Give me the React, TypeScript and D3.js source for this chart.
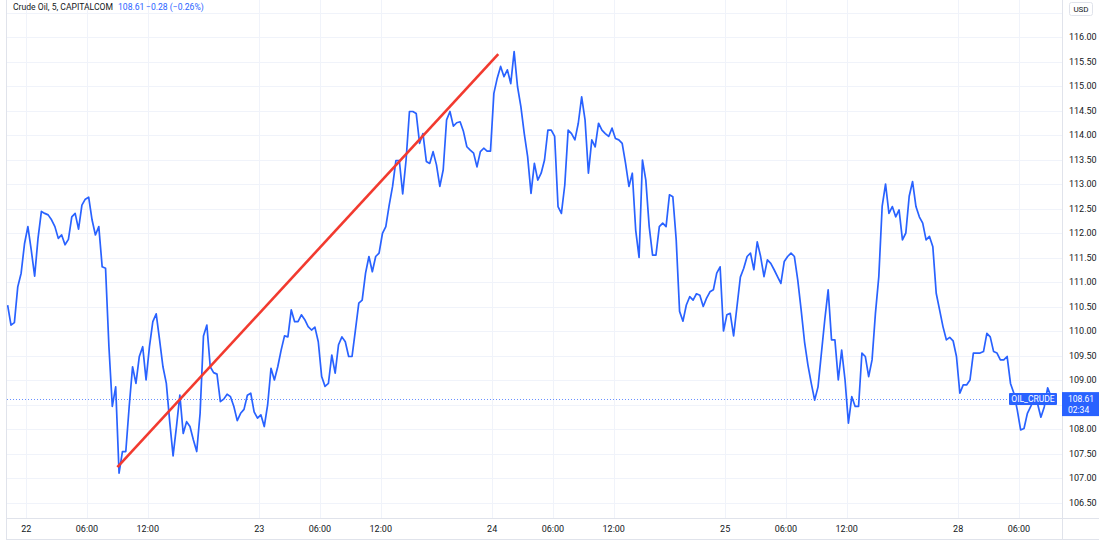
import React from "react";
import * as d3 from "d3";

// ---- data ----
const title = "Crude Oil, 5, CAPITALCOM";
const lastPrice = 108.61;
const changeAbs = -0.28;
const changePct = -0.26;
const symbol = "OIL_CRUDE";
const countdown = "02:34";
const currency = "USD";

// trading-hour index (23 trading hours per day, weekend skipped); series sampled every 20 min
const startHour = -11 / 6;
const stepHours = 1 / 3;
const prices = [
  110.53, 110.12, 110.17, 110.9, 111.18, 111.78, 112.13, 111.65, 111.12, 111.89,
  112.44, 112.4, 112.37, 112.27, 112.13, 111.89, 111.96, 111.76, 111.87, 112.33,
  112.4, 112.08, 112.57, 112.69, 112.73, 112.27, 111.96, 112.13, 111.31, 111.28,
  109.68, 108.46, 108.86, 107.1, 107.54, 107.54, 108.46, 109.27, 108.93, 109.48,
  109.68, 109.0, 109.68, 110.19, 110.35, 109.82, 109.27, 108.93, 108.15, 107.45,
  108.05, 108.69, 107.91, 108.15, 108.05, 107.78, 107.54, 108.32, 109.9, 110.12,
  109.27, 109.15, 109.12, 108.56, 108.61, 108.71, 108.66, 108.46, 108.17, 108.32,
  108.4, 108.69, 108.73, 108.35, 108.22, 108.29, 108.05, 108.49, 109.24, 109.0,
  109.27, 109.61, 109.9, 109.88, 110.43, 110.19, 110.19, 110.33, 110.23, 110.09,
  110.02, 110.08, 109.78, 109.07, 108.87, 108.93, 109.51, 109.14, 109.72, 109.88,
  109.78, 109.48, 109.48, 110.02, 110.57, 110.63, 111.18, 111.52, 111.21, 111.52,
  111.59, 111.99, 112.13, 112.57, 112.95, 113.48, 113.48, 112.8, 113.49, 114.48,
  114.48, 114.44, 113.83, 114.03, 113.46, 113.42, 113.66, 113.39, 112.95, 113.29,
  114.31, 114.48, 114.18, 114.25, 114.27, 114.07, 113.76, 113.69, 113.63, 113.35,
  113.66, 113.73, 113.67, 113.67, 114.85, 115.16, 115.4, 115.19, 115.33, 115.05,
  115.7, 114.99, 114.58, 114.03, 113.56, 112.81, 113.42, 113.08, 113.22, 113.49,
  114.1, 114.1, 113.97, 112.54, 112.4, 112.98, 114.1, 114.03, 113.9, 114.24,
  114.78, 114.31, 113.22, 113.9, 113.76, 114.24, 114.1, 114.03, 113.97, 114.14,
  113.93, 113.9, 113.83, 113.42, 112.95, 113.22, 112.06, 111.5, 113.49, 113.08,
  112.13, 111.55, 111.55, 112.13, 112.2, 112.13, 112.78, 112.74, 111.86, 110.4,
  110.2, 110.53, 110.7, 110.63, 110.76, 110.73, 110.5, 110.67, 110.8, 110.84,
  111.18, 111.31, 110.0, 110.33, 110.36, 109.9, 110.5, 111.1, 111.28, 111.52,
  111.59, 111.25, 111.82, 111.52, 111.11, 111.45, 111.38, 111.25, 111.11, 110.97,
  111.42, 111.52, 111.59, 111.52, 111.04, 110.43, 109.78, 109.31, 108.93, 108.59,
  108.86, 109.55, 110.23, 110.84, 109.82, 109.82, 109.0, 109.61, 109.0, 108.12,
  108.66, 108.46, 108.46, 109.55, 109.48, 109.07, 109.41, 110.36, 111.11, 112.55,
  113.0, 112.4, 112.54, 112.33, 112.47, 111.86, 112.0, 112.75, 113.05, 112.54,
  112.33, 112.2, 111.86, 111.93, 111.72, 110.77, 110.43, 110.09, 109.82, 109.87,
  109.8, 109.48, 108.73, 108.9, 108.9, 109.0, 109.55, 109.55, 109.55, 109.58,
  109.95, 109.88, 109.58, 109.55, 109.41, 109.41, 109.48, 108.93, 108.73, 108.39,
  107.98, 108.01, 108.32, 108.46, 108.63, 108.52, 108.24, 108.45, 108.84, 108.66,
];

const timeTickHours = [0, 6, 12, 23, 29, 35, 46, 52, 58, 69, 75, 81, 92, 98];
const timeTickLabels = ["22", "06:00", "12:00", "23", "06:00", "12:00", "24", "06:00", "12:00", "25", "06:00", "12:00", "28", "06:00"];
const priceTicks = [106.5, 107, 107.5, 108, 108.5, 109, 109.5, 110, 110.5, 111, 111.5, 112, 112.5, 113, 113.5, 114, 114.5, 115, 115.5, 116, 116.5];
// labels hidden in the reference (under the last-price tag / currency badge)
const hiddenPriceLabels = [108.5, 116.5];

const trendHours = [9.0, 46.6];
const trendPrices = [107.22, 115.65];

// ---- layout ----
const W = 1099;
const H = 540;
const plotLeft = 7;
const plotRight = 1062;
const plotBottom = 518;
const FONT = "Roboto, 'Noto Sans', sans-serif";
const BLUE = "#2962ff";
const TXT = "#131722";
const GRID = "#f0f3fa";
const BORDER = "#e0e3eb";

function fmtSign(v: number) {
  return (v < 0 ? "\u2212" : "+") + Math.abs(v).toFixed(2);
}

export default function App() {
  const x = d3.scaleLinear().domain([0, 98]).range([26.2, 26.2 + 98 * 10.13]);
  const y = d3.scaleLinear().domain([106.5, 116]).range([502.5, 37]);

  const series = prices.map((p, i) => ({ h: startHour + i * stepHours, p }));
  const line = d3
    .line<{ h: number; p: number }>()
    .x((d) => x(d.h))
    .y((d) => y(d.p));

  const trend = trendHours.map((h, i) => ({ h, p: trendPrices[i] }));
  const yLast = y(lastPrice);

  return (
    <div style={{ position: "absolute", left: 0, top: 0 }}>
      <svg width={W} height={H} style={{ display: "block", background: "#fff" }} fontFamily={FONT}>
        <defs>
          <clipPath id="plotClip">
            <rect x={plotLeft} y={0} width={plotRight - plotLeft} height={plotBottom} />
          </clipPath>
        </defs>
        {/* grid */}
        <g clipPath="url(#plotClip)">
          {priceTicks.map((v) => (
            <line key={"hg" + v} x1={plotLeft} x2={plotRight} y1={Math.round(y(v)) + 0.5} y2={Math.round(y(v)) + 0.5} stroke={GRID} />
          ))}
          {timeTickHours.map((h) => (
            <line key={"vg" + h} x1={Math.round(x(h)) + 0.5} x2={Math.round(x(h)) + 0.5} y1={0} y2={plotBottom} stroke={GRID} />
          ))}
        </g>
        {/* last price line */}
        <line x1={plotLeft} x2={1009} y1={Math.round(yLast) + 0.5} y2={Math.round(yLast) + 0.5} stroke={BLUE} strokeOpacity={0.7} strokeDasharray="1 2" />
        <g clipPath="url(#plotClip)">
          <path d={line(series) || ""} fill="none" stroke={BLUE} strokeWidth={1.7} strokeLinejoin="round" />
          <path d={line(trend) || ""} fill="none" stroke="#f23a2f" strokeWidth={2.6} />
        </g>
        {/* symbol tag */}
        <rect x={1009} y={yLast - 6} width={48} height={12} fill={BLUE} rx={1} />
        <text x={1033} y={yLast} dy="0.35em" textAnchor="middle" fontSize={8.5} fill="#fff">{symbol}</text>

        {/* borders */}
        <line x1={6.5} x2={6.5} y1={0} y2={H} stroke={BORDER} />
        <line x1={plotRight + 0.5} x2={plotRight + 0.5} y1={0} y2={H} stroke={BORDER} />
        <line x1={plotLeft} x2={W} y1={plotBottom + 0.5} y2={plotBottom + 0.5} stroke={BORDER} />
        <line x1={plotLeft} x2={W} y1={H - 0.5} y2={H - 0.5} stroke={BORDER} />

        {/* price axis */}
        {priceTicks
          .filter((v) => !hiddenPriceLabels.includes(v))
          .map((v) => (
            <text key={"pl" + v} x={1069} y={y(v)} dy="0.35em" fontSize={9} fill={TXT}>{v.toFixed(2)}</text>
          ))}
        <rect x={plotRight} y={yLast - 7} width={W - plotRight} height={24} fill={BLUE} />
        <text x={1068} y={yLast} dy="0.35em" fontSize={8.5} fill="#fff">{lastPrice.toFixed(2)}</text>
        <text x={1068} y={yLast + 10.5} dy="0.35em" fontSize={8.5} fill="#fff">{countdown}</text>
        <rect x={1069.5} y={2.5} width={23} height={13} rx={2} fill="#fff" stroke={BORDER} />
        <text x={1081} y={9} dy="0.35em" textAnchor="middle" fontSize={8} fill={TXT}>{currency}</text>

        {/* time axis */}
        {timeTickHours.map((h, i) => (
          <text key={"tl" + h} x={x(h)} y={529} dy="0.35em" textAnchor="middle" fontSize={9} fill={TXT}>{timeTickLabels[i]}</text>
        ))}

        {/* header */}
        <text x={13} y={7} dy="0.35em" fontSize={8.6} fill={TXT}>{title}</text>
        <text x={118} y={7} dy="0.35em" fontSize={8.6} fill={BLUE}>{lastPrice.toFixed(2)}</text>
        <text x={146} y={7} dy="0.35em" fontSize={8.6} fill={BLUE}>{`${fmtSign(changeAbs)} (${fmtSign(changePct)}%)`}</text>
      </svg>
    </div>
  );
}
